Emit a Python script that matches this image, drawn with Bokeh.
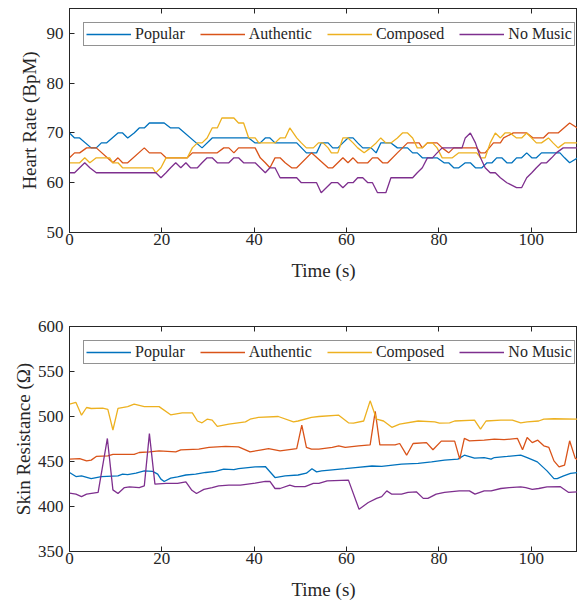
from bokeh.plotting import figure
from bokeh.models import LinearAxis, Legend, LegendItem, FixedTicker, Range1d
from bokeh.layouts import column
from bokeh.embed import file_html
from bokeh.resources import INLINE

series_names = ["Popular", "Authentic", "Composed", "No Music"]
colors = ["#0072BD", "#D95319", "#EDB120", "#7E2F8E"]

x_ticks = [0, 20, 40, 60, 80, 100]
hr_ticks = [50, 60, 70, 80, 90]
sr_ticks = [350, 400, 450, 500, 550, 600]

# Heart rate (BpM) vs time (s): (t, value) pairs
hr_popular = [(0,70),(1.1,69),(2.2,69),(4.7,67),(5.8,67),(6.9,68),(8,68),(10.5,70),(11.5,70),(12.6,69),
    (14,70),(15.1,71),(16.2,71),(17.3,72),(20.5,72),(21.9,71),(23.7,71),(28.7,67),(30.9,69),(38.8,69),
    (40.2,68),(41.3,68),(42.4,69),(43.4,69),(44.5,68),(49.2,68),(51.3,66),(53.5,66),(54.5,68),(56,68),
    (57,67),(58.1,67),(59.2,68),(60.3,69),(61.4,69),(62.4,68),(63.5,67),(65.3,67),(66.4,66),(67.4,68),
    (69.6,68),(71,67),(73.2,67),(74.3,66),(75.3,66),(76.4,65),(79.6,65),(81.1,64),(82.1,64),(83.2,63),
    (84.3,63),(85.7,64),(86.8,64),(87.9,63),(89.3,63),(90.4,64),(91.5,64),(92.5,65),(93.6,65),(94.7,64),
    (95.8,64),(96.8,65),(97.9,65),(99,66),(100.1,65),(101.1,65),(102.2,66),(106.2,66),(107.2,65),
    (108.3,64),(110,65)]
hr_authentic = [(0,65),(1.1,66),(2.2,66),(3.7,67),(5.8,67),(9.4,64),(10.5,65),(11.5,64),(12.6,64),
    (16.2,67),(17.3,66),(19.8,66),(20.9,65),(25.5,65),(26.6,66),(32,66),(33.4,67),(34.5,67),(35.6,66),
    (36.6,67),(40.2,67),(41.3,65),(42.4,64),(43.4,63),(44.5,65),(45.6,65),(46.7,64),(48.1,63),(49.2,63),
    (52.4,66),(56,63),(57,63),(59.2,65),(60.3,64),(61.4,65),(62.4,64),(64.6,64),(65.6,65),(66.7,65),
    (67.8,64),(68.9,64),(71,66),(72.1,67),(73.2,68),(75.7,68),(76.4,67),(77.5,68),(79.6,68),(80.7,67),
    (82.1,66),(83.2,67),(88.2,67),(89,66),(90,66),(91.8,68),(93.3,68),(94,69),(96.1,70),(99,70),
    (100.4,69),(102.6,69),(103.7,70),(105.8,70),(108.3,72),(110,71)]
hr_composed = [(0,64),(2.2,64),(3.3,65),(4.4,64),(5.8,65),(8.7,65),(9.4,64),(10.5,64),(11.5,63),(18,63),
    (18.7,62),(19.8,63),(20.9,65),(25.5,65),(26.6,67),(27.7,68),(28.7,68),(29.8,69),(30.9,71),(32,71),
    (33,73),(35.6,73),(36.6,72),(37.7,72),(38.8,69),(40.2,69),(41,68),(44.5,68),(45.6,69),(46.7,69),
    (47.7,71),(49.2,69),(50.2,68),(51.3,67),(52.8,67),(53.9,68),(54.9,68),(56,67),(56.7,66),(58.1,66),
    (59.2,69),(60.3,69),(61.4,68),(62.4,67),(63.8,66),(65.2,67),(66.4,68),(67.4,69),(68.5,68),(69.6,68),
    (71,69),(72.1,70),(73.2,70),(74.3,69),(75.3,67),(76.4,67),(77.5,68),(78.6,68),(79.6,67),(80.7,65),
    (82.9,65),(84.3,66),(88.2,66),(89,65),(90,65),(91.1,68),(92.2,70),(93.3,69),(94.3,70),(95.4,70),
    (96.8,69),(97.9,69),(99,70),(101.1,68),(102.2,68),(103.7,69),(104.7,68),(105.8,67),(107.2,68),(110,68)]
hr_nomusic = [(0,62),(1.1,62),(2.2,63),(3.3,64),(4.4,63),(5.8,62),(18.7,62),(19.8,61),(20.9,62),(21.9,63),
    (23,64),(24.1,63),(25.2,64),(26.2,63),(27.7,63),(28.7,64),(29.8,65),(30.9,65),(32,64),(34.5,64),
    (35.6,65),(36.6,65),(37.7,64),(40.2,64),(41.3,63),(42.4,62),(43.4,63),(44.5,63),(45.6,61),(49.2,61),
    (50.2,60),(53.5,60),(54.5,58),(55.6,59),(56.7,60),(58.1,60),(59.2,59),(60.3,60),(61.4,60),(62.4,61),
    (63.5,61),(64.6,60),(65.6,60),(66.7,58),(68.5,58),(69.6,61),(74.3,61),(75.3,62),(76.4,63),(77.5,65),
    (78.6,65),(79.6,66),(80.7,67),(85,67),(85.7,69),(86.8,70),(87.9,68),(89,65),(90,63),(91.1,62),
    (92.2,62),(93.3,61),(94.7,60),(96.8,59),(97.9,59),(99,61),(100.1,62),(101.1,63),(102.2,64),
    (103.3,64),(104.4,65),(105.4,66),(106.9,67),(110,67)]

# Skin resistance (Ohm) vs time (s)
sr_popular = [(0,437.8),(1.4,433.3),(2.6,434),(4.7,431),(6.9,433.3),(10.5,434),(11.5,436),(12.6,435.5),
    (14.4,437),(16.2,439.6),(18,439),(19.1,436),(19.8,430.4),(20.5,427.8),(21.9,431.5),(23.4,433),
    (25.2,435),(27.3,436),(29.5,437.8),(31.6,439),(33.4,441.5),(35.6,441),(36.6,442),(40.2,444),
    (42.4,444.4),(44.5,432.2),(46.7,434),(49.5,435),(51.3,437),(52.5,442),(53.5,438.5),(54.6,439.6),
    (56.9,440.7),(59.7,442),(61.9,443.3),(65.5,445),(67.6,444.5),(71.9,447),(75.5,448),(78.4,449.6),
    (81.2,451.5),(84.1,452.6),(85.5,457),(87.7,453.7),(89.8,454.4),(91.3,452.6),(92,454.4),(94.8,455.6),
    (97.7,457),(99.1,454.4),(101.3,449.6),(103.4,439.6),(104.9,431),(105.6,431),(107,434),(108.5,436.7),
    (110,437.8)]
sr_authentic = [(0,452.6),(2.2,453.3),(3.7,450.7),(4.7,451.5),(5.8,455.6),(8.3,456.3),(9.4,458),(14,458),
    (15.1,460),(17.3,460.7),(19.4,461.9),(23,460.7),(24.1,463),(28,463.7),(30.2,465.6),(33.8,466.7),
    (36.6,466.3),(39.1,460.7),(41.6,463),(43.1,464.4),(45.6,461.9),(49.2,464.4),(50.3,490.4),(51.3,465.6),
    (52.4,463.7),(54,463.7),(56.9,465.6),(58.3,467.4),(59.7,465.6),(62.6,467.4),(65.1,468.5),(66.2,505.6),
    (67.2,468.5),(70.5,468.5),(71.5,470),(73,457),(74.4,470),(77.3,471),(78.7,463),(80.5,472.6),
    (83.4,472.6),(84.5,452.6),(85.5,475.6),(86.6,473),(89.8,473.7),(92,474.8),(94.1,474.3),(97,475.6),
    (98.1,463),(99.1,476.7),(100.2,471),(101.4,473.7),(102.7,467.4),(103.8,465.6),(104.9,450.7),
    (106,444),(107.2,446),(108.3,473),(109.5,453.7),(110,452)]
sr_composed = [(0,513.7),(1.4,515.6),(2.6,501.5),(3.7,510),(4.7,508.9),(7.2,509.3),(8.3,508),(9.4,485),
    (10.5,509),(12.6,511),(14,513.7),(16.2,511),(19.4,511),(21.9,501.9),(24.4,504),(26.6,504),(27.7,495),
    (28.7,493),(29.8,497),(30.9,496),(32,489),(34.5,491.5),(38.1,494),(39.1,497),(40.9,499),(45.2,500),
    (48.5,494),(49.5,495),(52.4,499),(54,500),(58.3,501.5),(60.4,493),(61.5,492.6),(63.7,495),
    (65.1,517.4),(66.5,497),(68,495),(69.8,488),(71.5,491.5),(75.5,495),(79.1,494),(80.1,492.6),
    (82.3,493),(83.4,495),(87.7,496),(89,486),(90.2,495),(93.4,496),(95.9,496),(97.7,493),(99.1,494),
    (101.6,495),(102.7,497),(104.9,497.5),(110,497)]
sr_nomusic = [(0,414.8),(1.4,413.7),(2.6,411),(3.7,413.7),(6.2,415.6),(8.2,475.6),(9.4,418.5),(10.5,414.4),
    (11.9,421),(13,421.9),(15.1,421),(16.2,423),(17.3,481),(18.5,424.8),(20.9,425.6),(23.4,425.6),
    (25.2,427.4),(26.5,418),(27.5,414.4),(29.1,419),(30.9,421),(32.3,423),(34.5,423.7),(37,423.7),
    (40.2,426),(42.4,427.8),(43.4,427.8),(44.5,420),(45.6,420),(47.7,423.7),(48.8,422),(51,422),
    (52.8,425.6),(54,425.6),(55.8,428.5),(60.4,429.3),(62.7,397),(64.7,404.4),(66.5,409),(67.6,411),
    (68.7,417.4),(69.8,413.7),(71.9,413.7),(73.3,415.6),(75.1,416.3),(76.6,409),(77.6,409),(79.4,413.7),
    (81.2,415.6),(84.4,417.4),(86.6,417.4),(87.8,413.7),(89.8,417.4),(91.3,417.4),(93.4,420),(95.2,421),
    (97.7,421.9),(98.8,421),(100.2,419),(101.6,420),(103.4,421.9),(106.3,422),(108.1,415.6),(110,416.3)]

FONT = "'Liberation Serif', 'Times New Roman', Times, serif"
AX = "#262626"


def make_fig(height, y_lo, y_hi, yticks, ylabel, data, b_top, b_bottom, ylab_standoff):
    p = figure(width=577, height=height, x_range=Range1d(0, 110), y_range=Range1d(y_lo, y_hi),
               output_backend="svg", toolbar_location=None,
               min_border_left=69, min_border_right=0, min_border_top=b_top, min_border_bottom=b_bottom)
    p.xgrid.visible = False
    p.ygrid.visible = False
    p.outline_line_color = AX
    p.outline_line_width = 1
    p.background_fill_color = "white"
    p.border_fill_color = "white"

    for ax, ticks in ((p.xaxis[0], x_ticks), (p.yaxis[0], yticks)):
        ax.ticker = FixedTicker(ticks=ticks)
        ax.major_tick_in = 5
        ax.major_tick_out = 0
        ax.minor_tick_in = 0
        ax.minor_tick_out = 0
        ax.axis_line_color = AX
        ax.major_tick_line_color = AX
        ax.major_label_text_font = FONT
        ax.major_label_text_font_size = "17px"
        ax.major_label_text_color = AX
        ax.axis_label_text_font = FONT
        ax.axis_label_text_font_size = "19px"
        ax.axis_label_text_font_style = "normal"
        ax.axis_label_text_color = AX
    p.xaxis.axis_label = "Time (s)"
    p.xaxis.major_label_standoff = 1
    p.xaxis.axis_label_standoff = 12
    p.yaxis.axis_label = ylabel
    p.yaxis.major_label_standoff = 6
    p.yaxis.axis_label_standoff = ylab_standoff

    top = LinearAxis(ticker=FixedTicker(ticks=x_ticks), major_tick_in=5, major_tick_out=0,
                     minor_tick_in=0, minor_tick_out=0, major_label_text_font_size="0px",
                     major_label_standoff=0, axis_line_color=AX, major_tick_line_color=AX)
    p.add_layout(top, "above")

    items = []
    for name, col, ser in zip(series_names, colors, data):
        ts = [a for a, b in ser]
        vs = [b for a, b in ser]
        r = p.line(ts, vs, line_color=col, line_width=1.3)
        items.append(LegendItem(label=name, renderers=[r]))
    leg = Legend(items=items, orientation="horizontal", location="top_left",
                 margin=14, padding=2, spacing=15, glyph_width=45, glyph_height=14,
                 label_height=14, label_standoff=4,
                 label_text_font=FONT, label_text_font_size="16px", label_text_color=AX,
                 border_line_color=AX, border_line_width=1, background_fill_color="white",
                 background_fill_alpha=1.0)
    p.add_layout(leg)
    return p


p1 = make_fig(307, 50, 95, hr_ticks, "Heart Rate (BpM)",
              [hr_popular, hr_authentic, hr_composed, hr_nomusic], 8, 75, 4)
p2 = make_fig(298, 350, 600, sr_ticks, "Skin Resistance (\u03a9)",
              [sr_popular, sr_authentic, sr_composed, sr_nomusic], 19, 54, 1)

layout = column(p1, p2, spacing=0)
open("out.html", "w").write(file_html(layout, INLINE))
